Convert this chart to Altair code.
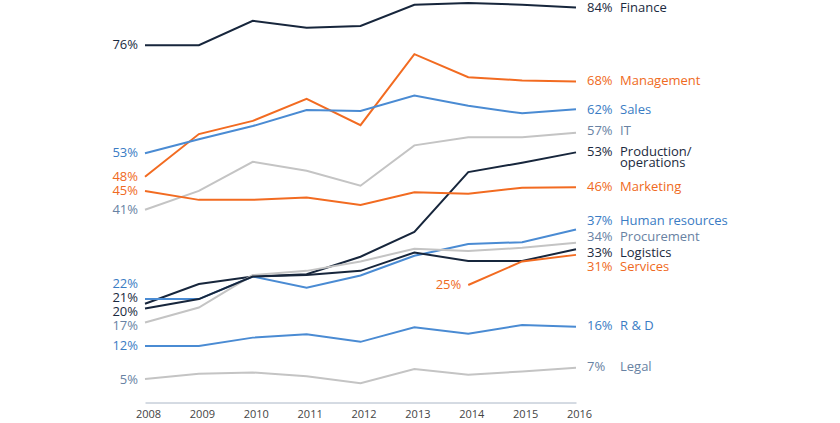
import altair as alt
import pandas as pd

years = [2008, 2009, 2010, 2011, 2012, 2013, 2014, 2015, 2016]

series_names = ["Finance", "Management", "Sales", "IT", "Production/\noperations",
                "Marketing", "Human resources", "Procurement", "Logistics",
                "Services", "R & D", "Legal"]

finance = [76, 76, 81.2, 79.7, 80.1, 84.6, 85.0, 84.6, 84.0]
management = [48, 57.1, 59.9, 64.6, 59.0, 74.1, 69.2, 68.5, 68.3]
sales = [53, 56, 58.8, 62.2, 62.0, 65.3, 63.1, 61.5, 62.4]
it = [41, 45, 51.2, 49.3, 46.1, 54.7, 56.4, 56.4, 57.4]
production = [21, 25.2, 26.8, 27.3, 31.0, 36.3, 49.0, 51.0, 53.2]
marketing = [45, 43.1, 43.1, 43.6, 42.0, 44.7, 44.4, 45.7, 45.8]
human_resources = [22, 22, 26.8, 24.4, 27.0, 31.2, 33.7, 34.1, 36.8]
procurement = [17, 20.2, 27.1, 28.0, 30.0, 32.7, 32.2, 32.9, 34.0]
logistics = [20, 22.0, 26.8, 27.1, 28.0, 31.9, 30.1, 30.1, 32.6]
services = [None, None, None, None, None, None, 25, 30, 31.4]
rnd = [12, 12, 13.8, 14.5, 12.9, 16.0, 14.6, 16.5, 16.1]
legal = [5, 6.1, 6.4, 5.6, 4.1, 7.1, 5.9, 6.6, 7.4]

values = [finance, management, sales, it, production, marketing, human_resources,
          procurement, logistics, services, rnd, legal]

# label anchor heights (in % units), nudged apart where labels would collide
right_label_at = [84.0, 68.3, 62.3, 57.8, 53.2, 45.9, 38.6, 35.2, 31.8, 28.8, 16.2, 7.5]
left_label_at = [76, 48, 53, 41, 22.2, 45, 25.2, 16.3, 19.3, 25, 12, 4.8]

DARK, ORANGE, BLUE, GRAY = "#17263c", "#f26b21", "#4a8bd3", "#c4c4c4"
TDARK, TORANGE, TBLUE, TSLATE = "#1b2a40", "#ef6a22", "#3a7cc4", "#6882a3"
group = ["d", "o", "b", "g", "d", "o", "b", "g", "d", "o", "b", "g"]
line_col = {"d": DARK, "o": ORANGE, "b": BLUE, "g": GRAY}
text_col = {"d": TDARK, "o": TORANGE, "b": TBLUE, "g": TSLATE}

rows = []
for name, vals, g in zip(series_names, values, group):
    for yr, v in zip(years, vals):
        if v is not None:
            rows.append({"series": name, "year": yr, "value": v, "lc": line_col[g]})
df = pd.DataFrame(rows)

right_rows, left_rows = [], []
for name, vals, g, ra, la in zip(series_names, values, group, right_label_at, left_label_at):
    pts = [(yr, v) for yr, v in zip(years, vals) if v is not None]
    right_rows.append({"series": name, "year": pts[-1][0], "pos": ra,
                       "pct": f"{round(pts[-1][1])}%", "tc": text_col[g]})
    left_rows.append({"series": name, "year": pts[0][0], "pos": la,
                      "pct": f"{round(pts[0][1])}%", "tc": text_col[g]})
rdf = pd.DataFrame(right_rows)
ldf = pd.DataFrame(left_rows)

FONT = "Open Sans"
xs = alt.Scale(domain=[2008, 2016], nice=False, zero=False)
ys = alt.Scale(domain=[0, 85.4], nice=False, zero=True)

lines = alt.Chart(df).mark_line(strokeWidth=2).encode(
    x=alt.X("year:Q", scale=xs,
            axis=alt.Axis(values=years, format="d", title=None, grid=False, ticks=False,
                          domainColor="#aab6c6", domainWidth=1, labelFont=FONT,
                          labelFontSize=11, labelColor="#444444", labelPadding=6,
                          labelOffset=3, labelFlush=False)),
    y=alt.Y("value:Q", scale=ys, axis=None),
    color=alt.Color("lc:N", scale=None),
    detail="series:N",
)

rpct = alt.Chart(rdf).mark_text(align="left", baseline="middle", dx=11,
                                font=FONT, fontSize=13).encode(
    x=alt.X("year:Q", scale=xs), y=alt.Y("pos:Q", scale=ys),
    text="pct:N", color=alt.Color("tc:N", scale=None))

rname = alt.Chart(rdf).mark_text(align="left", baseline="middle", dx=44,
                                 font=FONT, fontSize=13, lineBreak="\n",
                                 lineHeight=11).encode(
    x=alt.X("year:Q", scale=xs), y=alt.Y("pos:Q", scale=ys),
    text="series:N", color=alt.Color("tc:N", scale=None))

lpct = alt.Chart(ldf).mark_text(align="right", baseline="middle", dx=-7,
                                font=FONT, fontSize=13).encode(
    x=alt.X("year:Q", scale=xs), y=alt.Y("pos:Q", scale=ys),
    text="pct:N", color=alt.Color("tc:N", scale=None))

chart = alt.layer(lines, rpct, rname, lpct).properties(
    width=431, height=401.5,
    background="white",
    autosize=alt.AutoSizeParams(type="none"),
    padding={"left": 145, "top": 1, "right": 264, "bottom": 20},
).configure_view(stroke=None, strokeWidth=0)

chart.save("out.html", embed_options={"renderer": "svg", "actions": False})
